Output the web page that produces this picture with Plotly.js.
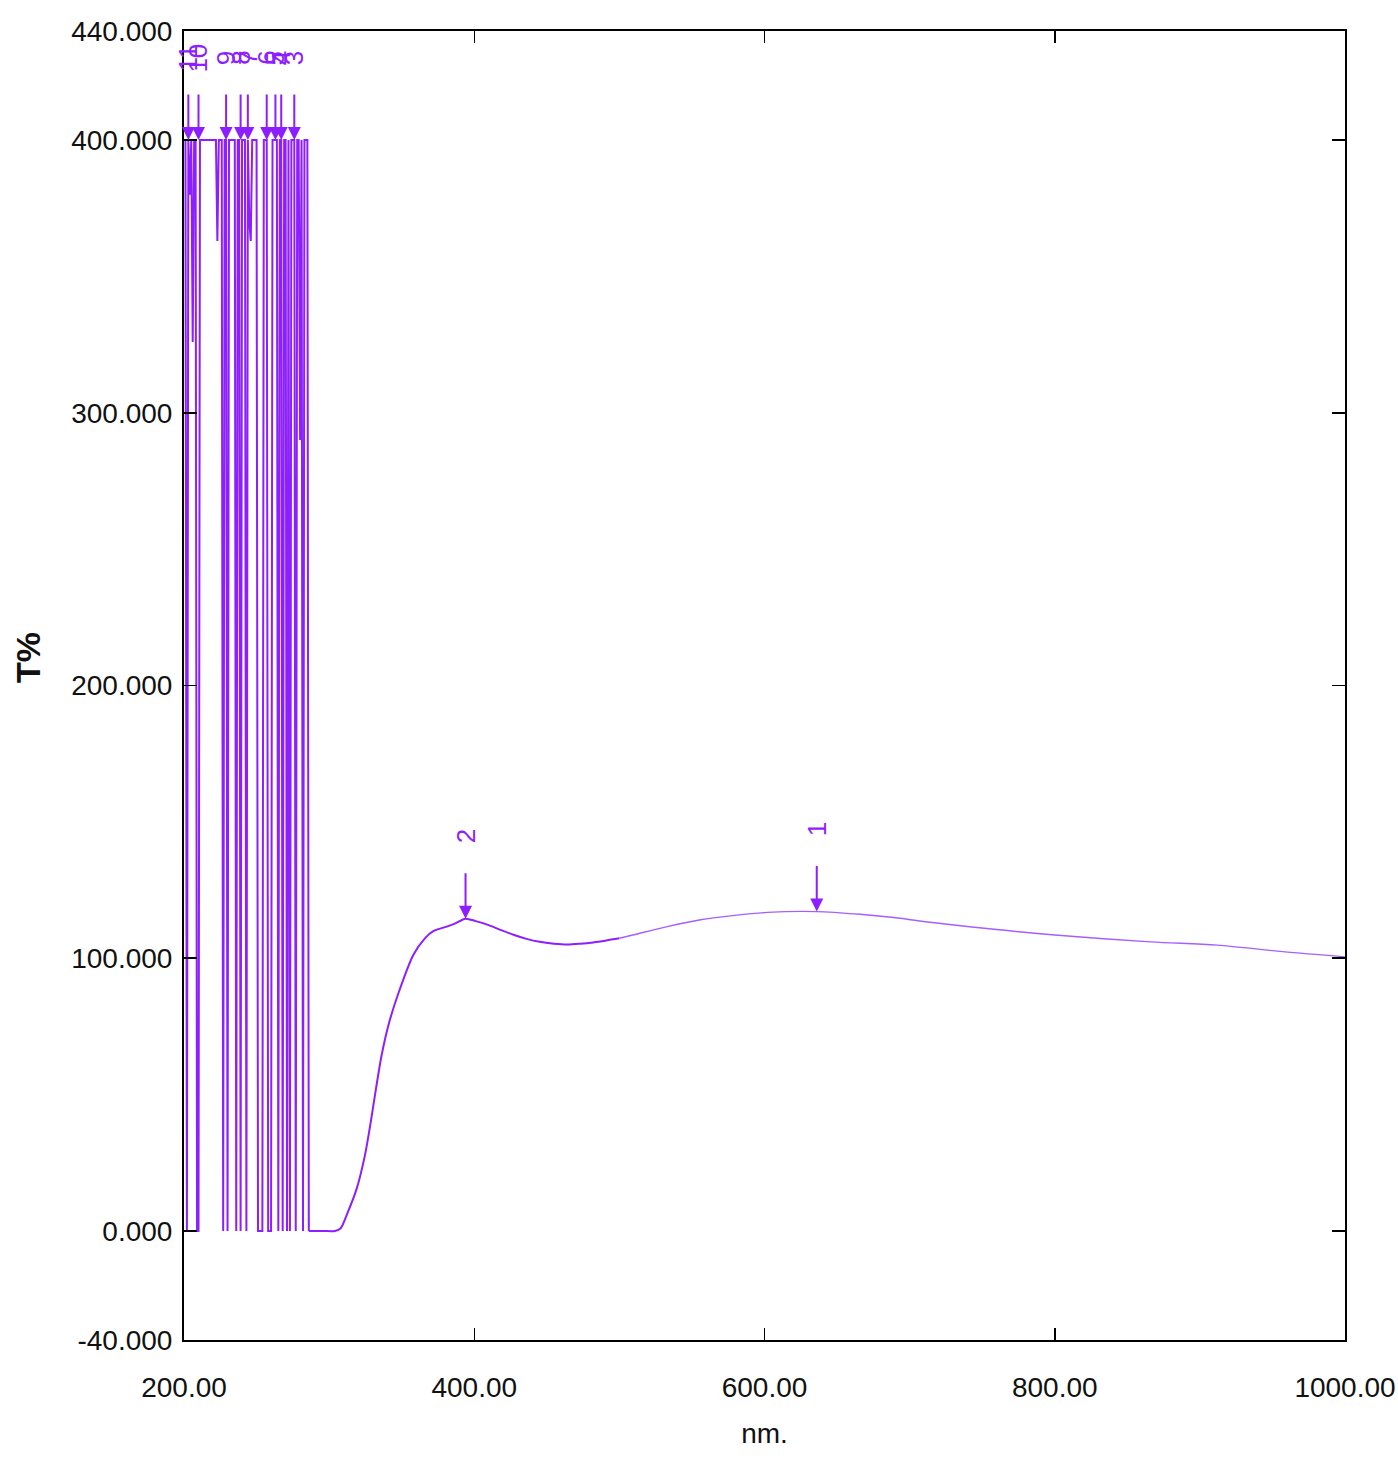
<!DOCTYPE html>
<html>
<head>
<meta charset="utf-8">
<script src="https://cdn.plot.ly/plotly-3.0.1.min.js"></script>
<style>html,body{margin:0;padding:0;background:#fff;}#chart{width:1398px;height:1464px;}</style>
</head>
<body>
<div id="chart"></div>
<script>
// Saturated / noisy region (nm, T%)
const noiseNm = [200,201,202,203,204,205,206,207,208,209,210,211,212,213,214,215,216,217,218,219,220,221,222,223,224,225,226,227,228,229,230,231,232,233,234,235,236,237,238,239,240,241,242,243,244,245,246,247,248,249,250,251,252,253,254,255,256,257,258,259,260,261,262,263,264,265,266,267,268,269,270,271,272,273,274,275,276,277,278,279,280,281,282,283,284,285,286];
const noiseVal = [400,400,0,400,380,400,326,400,400,0,0,400,400,400,400,400,400,400,400,400,400,400,400,363,400,400,400,0,400,400,0,400,400,400,400,400,0,400,400,0,400,400,400,0,400,370,363,400,400,400,400,0,0,0,0,400,400,400,0,0,0,400,400,400,400,0,400,400,0,400,400,0,400,0,400,400,400,0,400,400,290,400,0,400,400,400,0];

// Smooth spectrum, UV/blue part (nm, T%)
const curveNm  = [286,296,304,308,312,319,324.7,328.7,332.3,336.2,341.5,348.9,358,366,372,381,387,394,401,409,418,427,436,445,455,464,473,482,491,500];
const curveVal = [0,0,0,1,5.7,15.5,27.8,40,52.2,64.5,76.7,88.9,101.2,107.3,110,111.6,112.8,114.5,113.6,112.3,110.4,108.6,107.1,106,105.3,105,105.3,105.8,106.5,107.3];
// Smooth spectrum, visible / NIR part (nm, T%)
const tailNm   = [500,510,533,556,578,602,636,666,689,720,760,800,866,912,957,1000];
const tailVal  = [107.3,108.6,111.6,114.1,115.6,116.8,117.1,116.1,114.9,112.8,110.5,108.5,106,104.8,102.4,100.5];

// Peak picks
const peakNm    = [636,394,276,267,263,257,244,239,229,210,203];
const peakVal   = [117.1,114.5,400,400,400,400,400,400,400,400,400];
const peakLabel = ['1','2','3','4','5','6','7','8','9','10','11'];

// Axis ticks
const xTicks = [200,400,600,800,1000];
const xTickText = ['200.00','400.00','600.00','800.00','1000.00'];
const yTicks = [-40,0,100,200,300,400,440];
const yTickText = ['-40.000','0.000','100.000','200.000','300.000','400.000','440.000'];

const violet = 'rgb(140,30,255)';
const lightViolet = 'rgb(165,95,255)';
const fontFam = '"Liberation Sans", Arial, sans-serif';

const traces = [
  {x: noiseNm, y: noiseVal, type: 'scatter', mode: 'lines',
   line: {color: violet, width: 2}, hoverinfo: 'skip'},
  {x: curveNm, y: curveVal, type: 'scatter', mode: 'lines',
   line: {color: violet, width: 2, shape: 'spline', smoothing: 0.8}, hoverinfo: 'skip'},
  {x: tailNm, y: tailVal, type: 'scatter', mode: 'lines',
   line: {color: lightViolet, width: 1.4, shape: 'spline', smoothing: 0.9}, hoverinfo: 'skip'}
];

const annotations = [];
for (let i = 0; i < peakNm.length; i++) {
  annotations.push({
    x: peakNm[i], y: peakVal[i], xref: 'x', yref: 'y',
    text: '', showarrow: true, ax: 0, ay: -47,
    arrowhead: 2, arrowsize: 1.3, arrowwidth: 2, arrowcolor: violet, standoff: 0
  });
  annotations.push({
    x: peakNm[i], y: peakVal[i], xref: 'x', yref: 'y',
    text: peakLabel[i], showarrow: false, textangle: -90, yshift: 82,
    font: {family: fontFam, size: 26, color: violet}
  });
}
// Y axis title placed where the reference has it
annotations.push({
  xref: 'paper', yref: 'paper', x: -0.1344, y: 0.5218, xanchor: 'center', yanchor: 'middle',
  text: 'T%', showarrow: false, textangle: -90,
  font: {family: fontFam, size: 34, color: '#111', weight: 'bold'}
});

const layout = {
  width: 1398, height: 1464,
  margin: {l: 184, r: 53, t: 31, b: 124},
  paper_bgcolor: '#fff', plot_bgcolor: '#fff',
  showlegend: false,
  xaxis: {
    range: [200, 1000], tickvals: xTicks, ticktext: xTickText,
    ticks: 'inside', ticklen: 12, tickwidth: 1.5, tickcolor: '#000',
    showline: true, linewidth: 2, linecolor: '#000', mirror: 'ticks',
    showgrid: false, zeroline: false,
    ticklabelstandoff: 21,
    tickfont: {family: fontFam, size: 28, color: '#111'},
    title: {text: 'nm.', font: {family: fontFam, size: 28, color: '#111'}, standoff: 22}
  },
  yaxis: {
    range: [-40, 440], tickvals: yTicks, ticktext: yTickText,
    ticks: 'inside', ticklen: 13, tickwidth: 1.5, tickcolor: '#000',
    showline: true, linewidth: 2, linecolor: '#000', mirror: 'ticks',
    showgrid: false, zeroline: false,
    ticklabelstandoff: 4,
    tickfont: {family: fontFam, size: 28, color: '#111'}
  },
  annotations: annotations
};

Plotly.newPlot('chart', traces, layout, {staticPlot: true, displayModeBar: false});
</script>
</body>
</html>
